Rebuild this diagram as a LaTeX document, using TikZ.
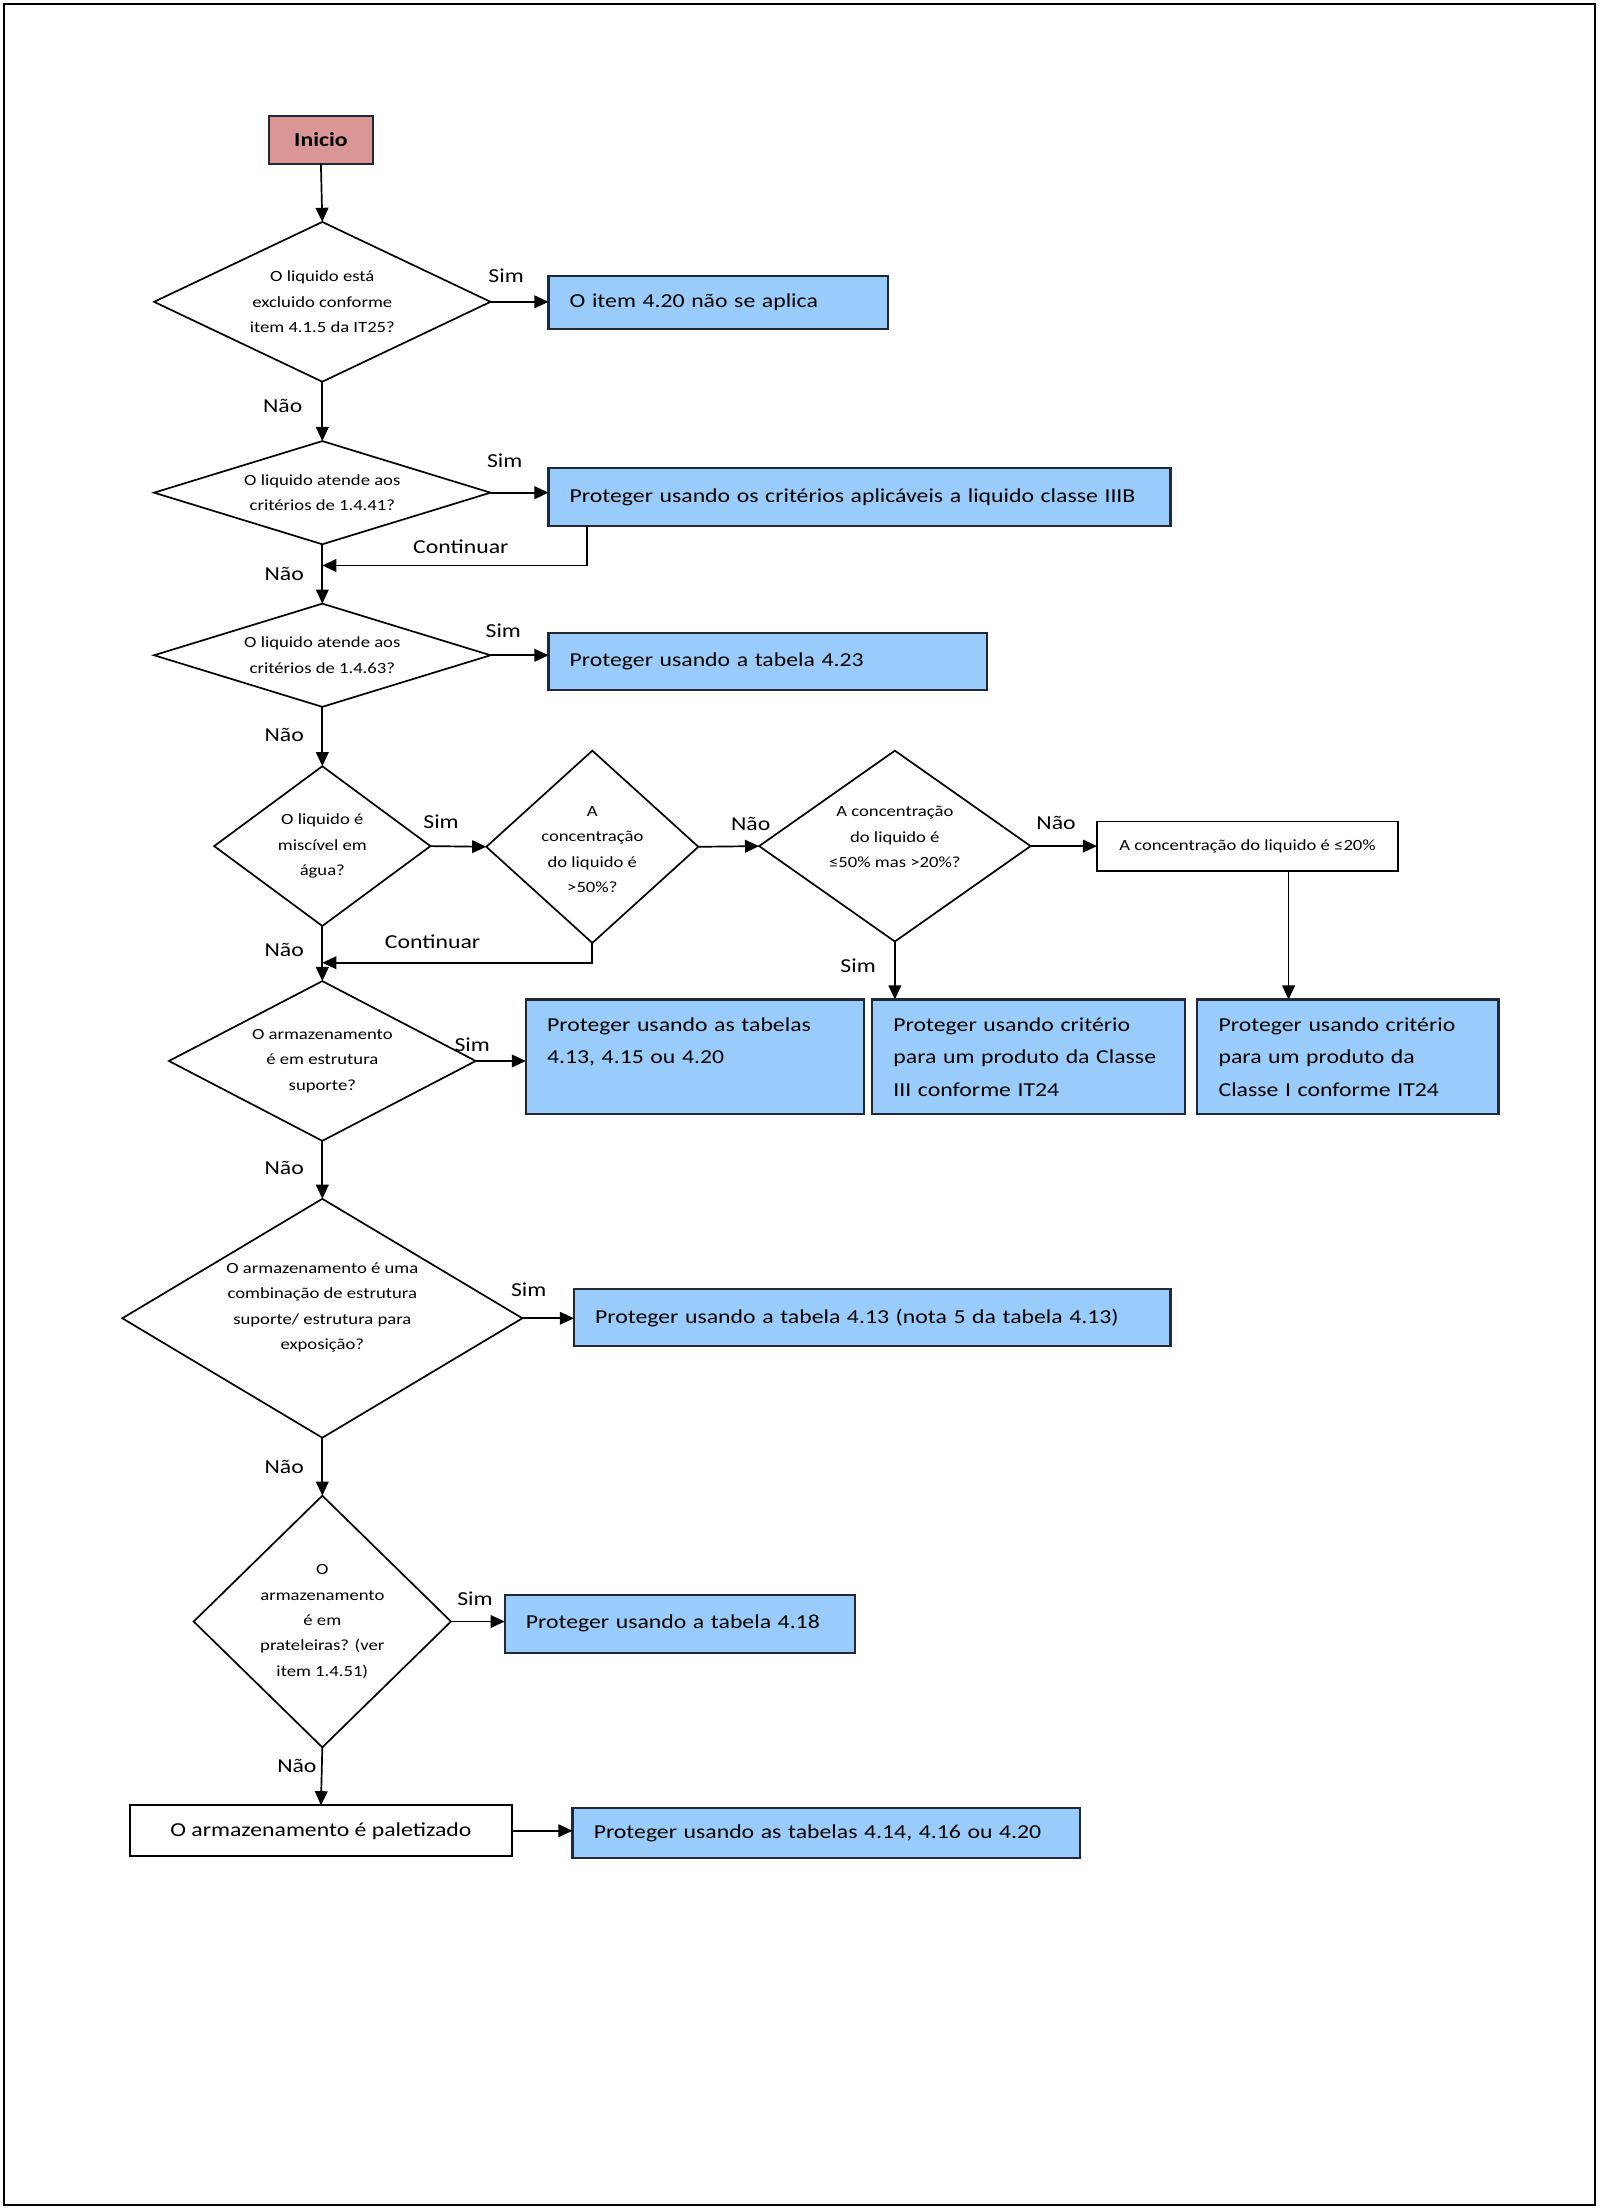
\documentclass[tikz,border=0pt]{standalone}
\usepackage{fontspec}
\setmainfont{Carlito}[FakeStretch=1.2]
\usetikzlibrary{shapes.geometric,arrows.meta}
\definecolor{boxblue}{RGB}{153,204,250}
\definecolor{startpink}{RGB}{217,150,148}
\definecolor{edgecol}{RGB}{35,40,55}
\begin{document}
\begin{tikzpicture}[x=1pt,y=-1pt,
  every node/.style={inner sep=0pt, outer sep=0pt},
  bluebox/.style={draw=edgecol, line width=1.5pt, fill=boxblue, rectangle, anchor=north west,
    inner xsep=15pt, align=left, font=\fontsize{14}{23}\selectfont},
  whitebox/.style={draw=black, line width=1.2pt, fill=white, rectangle, anchor=north west, align=center},
  startbox/.style={draw=edgecol, line width=1.5pt, fill=startpink, rectangle, anchor=north west,
    font=\fontsize{14}{16}\selectfont\bfseries},
  dia/.style={draw=black, line width=1.2pt, diamond},
  dtext/.style={align=center, font=\fontsize{11}{18}\selectfont},
  lbl/.style={font=\fontsize{14}{16}\selectfont},
  arr/.style={draw=black, line width=1.2pt, -{Triangle[length=10pt,width=9pt]}},
  ln/.style={draw=black, line width=1.2pt}]

\useasboundingbox (0,0) rectangle (1132,1564);
\draw[line width=1.5pt] (3,3) rectangle (1128,1560);

% start
\node[startbox, minimum width=74pt, minimum height=34pt] (start) at (190,82) {Inicio};

% diamonds
\node[dia, minimum width=238pt, minimum height=113pt] (d1) at (228,213.5) {};
\node[dtext] (d1t) at (d1) {O liquido está\\excluido conforme\\item 4.1.5 da IT25?};
\node[dia, minimum width=238pt, minimum height=73pt] (d2) at (228,348.5) {};
\node[dtext] (d2t) at (d2) {O liquido atende aos\\critérios de 1.4.41?};
\node[dia, minimum width=238pt, minimum height=73pt] (d3) at (228,463.5) {};
\node[dtext] (d3t) at (d3) {O liquido atende aos\\critérios de 1.4.63?};
\node[dia, minimum width=153pt, minimum height=113pt] (d4) at (228,598.5) {};
\node[dtext] (d4t) at (d4) {O liquido é\\miscível em\\água?};
\node[dia, minimum width=150pt, minimum height=136pt] (d5) at (419,599) {};
\node[dtext] (d5t) at (419,601) {A\\concentração\\do liquido é\\>50\%?};
\node[dia, minimum width=192pt, minimum height=135pt] (d6) at (633,598.5) {};
\node[dtext] (d6t) at (633,592) {A concentração\\do liquido é\\≤50\% mas >20\%?};
\node[dia, minimum width=217pt, minimum height=113pt] (d7) at (228,750.5) {};
\node[dtext] (d7t) at (d7) {O armazenamento\\é em estrutura\\suporte?};
\node[dia, minimum width=283pt, minimum height=169pt] (d8) at (228,932.5) {};
\node[dtext] (d8t) at (228,925) {O armazenamento é uma\\combinação de estrutura\\suporte/ estrutura para\\exposição?};
\node[dia, minimum width=182pt, minimum height=178pt] (d9) at (228,1147) {};
\node[dtext] (d9t) at (228,1147) {O\\armazenamento\\é em\\prateleiras? (ver\\item 1.4.51)};

% result boxes
\node[bluebox, minimum width=240pt, minimum height=38pt, text width=210pt] (b1) at (388,195) {O item 4.20 não se aplica};
\node[bluebox, minimum width=440pt, minimum height=41pt, text width=410pt] (b2) at (388,331) {Proteger usando os critérios aplicáveis a liquido classe IIIB};
\node[bluebox, minimum width=310pt, minimum height=40pt, text width=280pt] (b3) at (388,448) {Proteger usando a tabela 4.23};
\node[whitebox, minimum width=213pt, minimum height=35pt, font=\fontsize{11}{14}\selectfont] (b7) at (776,581) {A concentração do liquido é ≤20\%};
\node[bluebox, minimum width=239pt, minimum height=81pt, text width=209pt] (b8) at (372,707) {Proteger usando as tabelas\\4.13, 4.15 ou 4.20\\\mbox{}};
\node[bluebox, minimum width=221pt, minimum height=81pt, text width=191pt] (b9) at (617,707) {Proteger usando critério\\para um produto da Classe\\III conforme IT24};
\node[bluebox, minimum width=213pt, minimum height=81pt, text width=183pt] (b10) at (847,707) {Proteger usando critério\\para um produto da\\Classe I conforme IT24};
\node[bluebox, minimum width=422pt, minimum height=40pt, text width=392pt] (b11) at (406,912) {Proteger usando a tabela 4.13 (nota 5 da tabela 4.13)};
\node[bluebox, minimum width=248pt, minimum height=41pt, text width=218pt] (b12) at (357,1128) {Proteger usando a tabela 4.18};
\node[whitebox, minimum width=270pt, minimum height=36pt, font=\fontsize{14}{16}\selectfont] (b13) at (92,1277) {O armazenamento é paletizado};
\node[bluebox, minimum width=359pt, minimum height=35pt, text width=329pt] (b14) at (405,1279) {Proteger usando as tabelas 4.14, 4.16 ou 4.20};

% free ends of the "Continuar" returns
\coordinate (c1) at (228,400);
\coordinate (c2) at (228,681);

% connectors
\draw[arr] (start.south) -- (d1.north);
\draw[arr] (d1.east) -- (d1.east -| b1.west);
\draw[arr] (d1.south) -- (d2.north);
\draw[arr] (d2.east) -- (d2.east -| b2.west);
\draw[arr] ([xshift=27pt]b2.south west) |- (c1);
\draw[arr] (d2.south) -- (d3.north);
\draw[arr] (d3.east) -- (d3.east -| b3.west);
\draw[arr] (d3.south) -- (d4.north);
\draw[arr] (d4.east) -- (d5.west);
\draw[arr] (d5.east) -- (d6.west);
\draw[arr] (d6.east) -- (d6.east -| b7.west);
\draw[arr] ([xshift=29pt]b7.south) -- ([xshift=29pt]b7.south |- b10.north);
\draw[arr] (d6.south) -- (d6.south |- b9.north);
\draw[arr] (d5.south) |- (c2);
\draw[arr] (d4.south) -- (d7.north);
\draw[arr] (d7.east) -- (d7.east -| b8.west);
\draw[arr] (d7.south) -- (d8.north);
\draw[arr] (d8.east) -- (d8.east -| b11.west);
\draw[arr] (d8.south) -- (d9.north);
\draw[arr] (d9.east) -- (d9.east -| b12.west);
\draw[arr] (d9.south) -- (b13.north);
\draw[arr] (b13.east) -- (b13.east -| b14.west);

% labels
\node[lbl] (l1) at (358,195) {Sim};
\node[lbl] (l2) at (200,287) {Não};
\node[lbl] (l3) at (357,326) {Sim};
\node[lbl] (l4) at (326,387) {Continuar};
\node[lbl] (l5) at (201,406) {Não};
\node[lbl] (l6) at (356,446) {Sim};
\node[lbl] (l7) at (201,520) {Não};
\node[lbl] (l8) at (312,581) {Sim};
\node[lbl] (l9) at (531,583) {Não};
\node[lbl] (l10) at (747,582) {Não};
\node[lbl] (l11) at (607,683) {Sim};
\node[lbl] (l12) at (306,666) {Continuar};
\node[lbl] (l13) at (201,672) {Não};
\node[lbl] (l14) at (334,739) {Sim};
\node[lbl] (l15) at (201,826) {Não};
\node[lbl] (l16) at (374,912) {Sim};
\node[lbl] (l17) at (201,1038) {Não};
\node[lbl] (l18) at (336,1131) {Sim};
\node[lbl] (l19) at (210,1249) {Não};
\end{tikzpicture}
\end{document}
